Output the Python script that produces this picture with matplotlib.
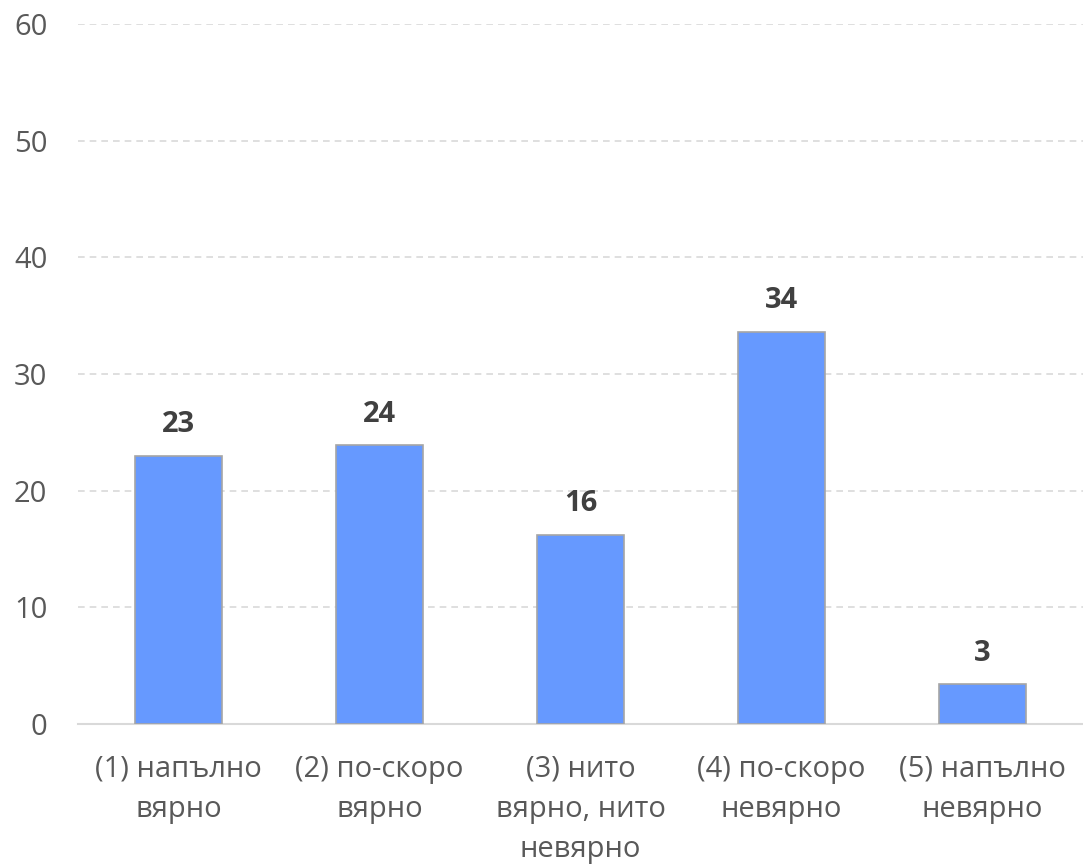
import matplotlib.pyplot as plt

# ------------------------------------------------------------------ #
# Data                                                                 #
# ------------------------------------------------------------------ #

categories = [
    "(1) напълно\nвярно",
    "(2) по-скоро\nвярно",
    "(3) нито\nвярно, нито\nневярно",
    "(4) по-скоро\nневярно",
    "(5) напълно\nневярно",
]
values = [23.0, 23.9, 16.2, 33.6, 3.4]
y_ticks = [0, 10, 20, 30, 40, 50, 60]

BAR_COLOR = "#6699FF"
EDGE_COLOR = "#A6A6A6"
GRID_COLOR = "#D9D9D9"
TICK_COLOR = "#595959"
LABEL_COLOR = "#404040"

plt.rcParams["font.family"] = ["Open Sans", "DejaVu Sans"]

fig = plt.figure(figsize=(10.83, 8.68), dpi=100)
ax = fig.add_axes([78 / 1083, 1 - 724 / 868, 1 - 78 / 1083, 700 / 868])

x = range(len(categories))
bars = ax.bar(x, values, width=0.43, color=BAR_COLOR,
              edgecolor=EDGE_COLOR, linewidth=1.2, zorder=3)

for b, v in zip(bars, values):
    ax.annotate(f"{v:.0f}", xy=(b.get_x() + b.get_width() / 2, v),
                xytext=(0, 12), textcoords="offset points",
                ha="center", va="bottom", fontsize=21, fontweight="bold",
                color=LABEL_COLOR)

ax.set_xlim(-0.5, len(categories) - 0.5)
ax.set_ylim(0, 60)
ax.set_yticks(y_ticks)
ax.set_xticks(list(x))
ax.set_xticklabels(categories, fontsize=21, color=TICK_COLOR, linespacing=1.5)
ax.tick_params(axis="y", labelsize=21, labelcolor=TICK_COLOR, length=0, pad=22)
ax.tick_params(axis="x", length=0, pad=22)

ax.yaxis.grid(True, color=GRID_COLOR, linestyle=(0, (4, 3)), linewidth=1.2, zorder=0)
for side in ("left", "right", "top"):
    ax.spines[side].set_visible(False)
ax.spines["bottom"].set_color(GRID_COLOR)
ax.spines["bottom"].set_linewidth(1.5)

fig.savefig("out.png", dpi=100, facecolor="white")
